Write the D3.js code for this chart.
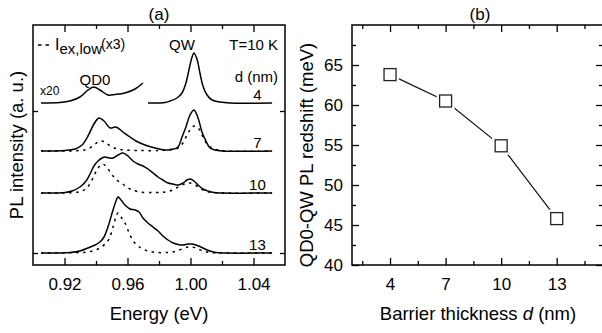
<!DOCTYPE html>
<html><head><meta charset="utf-8">
<script src="https://cdn.jsdelivr.net/npm/d3@7"></script>
<style>
body{margin:0;background:#fff;}
svg{display:block;font-family:"Liberation Sans",Arial,Helvetica,sans-serif;}
</style></head><body>
<svg id="c" width="602" height="333"></svg>
<script>
// ---------- Panel (a): PL spectra (energy in eV, intensity in a.u. above each baseline) ----------
const dValues = ["4", "7", "10", "13"];
const offsets = [15.0, 10.2, 6.0, 0];

// d = 4 nm, QD0 part (x20)
const e4qd = [0.9051,0.9171,0.9235,0.9298,0.9349,0.9387,0.9425,0.9476,0.9521,0.9584,0.9648,0.9698];
const i4qd = [0,0.05,0.2,0.6,1.3,1.6,1.3,0.8,0.85,1.0,1.4,2.0];
// d = 4 nm, QW part
const e4qw = [0.9730,0.9838,0.9870,0.9914,0.9946,0.9971,0.9990,1.0010,1.0022,1.0041,1.0060,1.0079,1.0105,1.0137,1.0187,1.0251,1.0518];
const i4qw = [0,0.05,0.2,0.5,1.0,2.0,3.3,4.6,5.0,4.4,3.0,1.7,0.8,0.3,0.1,0,0];

// d = 7 nm
const e7 = [0.9051,0.9203,0.9267,0.9311,0.9349,0.9387,0.9419,0.9451,0.9489,0.9527,0.9571,0.9616,0.9660,0.9711,0.9775,0.9838,0.9883,0.9921,0.9946,0.9971,0.9997,1.0022,1.0048,1.0073,1.0098,1.0124,1.0156,1.0200,1.0518];
const i7 = [0,0.05,0.2,0.6,1.5,2.7,3.3,3.0,2.3,2.4,1.9,1.4,0.95,0.6,0.3,0.1,0.15,0.4,1.4,2.4,3.6,4.1,3.3,1.9,1.0,0.3,0.1,0,0];
const e7low = [0.9051,0.9298,0.9349,0.9387,0.9413,0.9438,0.9463,0.9502,0.9540,0.9584,0.9679,0.9806,0.9870,0.9921,0.9952,0.9984,1.0010,1.0029,1.0054,1.0079,1.0105,1.0137,1.0175,1.0219,1.0518];
const i7low = [0,0.05,0.2,0.6,0.9,1.0,0.8,0.4,0.2,0.1,0.05,0.05,0.15,0.3,0.8,1.8,2.4,2.5,2.2,1.4,0.7,0.3,0.1,0,0];

// d = 10 nm
const e10 = [0.9051,0.9203,0.9248,0.9298,0.9337,0.9362,0.9387,0.9413,0.9438,0.9457,0.9483,0.9508,0.9540,0.9571,0.9603,0.9635,0.9667,0.9698,0.9730,0.9762,0.9794,0.9825,0.9857,0.9889,0.9921,0.9952,0.9978,0.9997,1.0022,1.0048,1.0079,1.0111,1.0149,1.0200,1.0518];
const i10 = [0,0.05,0.2,0.6,1.2,1.9,2.7,3.2,3.5,3.6,3.5,3.5,3.8,4.0,3.7,3.2,2.9,2.7,2.4,2.0,1.6,1.3,1.0,0.9,0.8,1.0,1.3,1.4,1.2,0.8,0.4,0.2,0.05,0,0];
const e10low = [0.9051,0.9267,0.9311,0.9343,0.9381,0.9413,0.9444,0.9476,0.9508,0.9540,0.9578,0.9616,0.9679,0.9775,0.9838,0.9889,0.9933,0.9971,0.9997,1.0029,1.0060,1.0092,1.0137,1.0187,1.0518];
const i10low = [0,0.05,0.2,0.5,1.5,2.5,2.9,2.4,1.7,1.2,0.8,0.4,0.1,0.05,0.1,0.3,0.7,0.95,1.0,0.8,0.5,0.2,0.05,0,0];

// d = 13 nm
const e13 = [0.9051,0.9235,0.9298,0.9349,0.9394,0.9425,0.9451,0.9476,0.9508,0.9527,0.9540,0.9559,0.9584,0.9616,0.9648,0.9673,0.9698,0.9730,0.9762,0.9794,0.9825,0.9857,0.9889,0.9921,0.9952,0.9984,1.0010,1.0035,1.0060,1.0092,1.0124,1.0162,1.0219,1.0518];
const i13 = [0,0.05,0.2,0.5,0.8,1.1,1.6,2.6,4.3,5.2,5.6,5.3,4.8,4.4,4.3,4.1,3.5,3.0,2.6,2.2,1.7,1.3,1.0,0.85,0.8,0.9,0.9,0.8,0.65,0.4,0.2,0.05,0,0];
const e13low = [0.9051,0.9298,0.9349,0.9394,0.9425,0.9457,0.9483,0.9508,0.9527,0.9540,0.9559,0.9584,0.9616,0.9641,0.9667,0.9698,0.9743,0.9794,0.9857,0.9902,0.9946,0.9984,1.0010,1.0041,1.0079,1.0124,1.0187,1.0518];
const i13low = [0,0.05,0.1,0.3,0.5,0.9,1.4,2.6,3.6,4.0,3.6,3.0,1.8,1.1,0.7,0.4,0.15,0.05,0.05,0.15,0.4,0.6,0.6,0.45,0.2,0.05,0,0];

const energyTicksMajor = [0.92, 0.96, 1.00, 1.04];
const energyTicksMinor = [0.94, 0.98, 1.02];
const intensityTicks = [0, 14.2];

// ---------- Panel (b): redshift vs barrier thickness ----------
const thickness = [4, 7, 10, 13];
const redshift = [63.8, 60.5, 54.9, 45.8];
const thickTicksMajor = [4, 7, 10, 13];
const thickTicksMinor = [2.5, 5.5, 8.5, 11.5, 14.5];
const shiftTicksMajor = [40, 45, 50, 55, 60, 65];
const shiftTicksMinor = [42.5, 47.5, 52.5, 57.5, 62.5, 67.5];

// ================= drawing =================
const svg = d3.select("#c");
svg.append("rect").attr("width",602).attr("height",333).attr("fill","#fff");

const tickFont = "17px";
const labelFont = "18.5px";

// ---- panel (a) ----
const A = {l:33, r:285, t:25, b:265};
const xA = d3.scaleLinear().domain([0.90, 1.06]).range([A.l, A.r]);
const yA = d3.scaleLinear().domain([-1.2, 22.8]).range([A.b, A.t]);

const gA = svg.append("g");

function styleAxis(g, fs){
  g.select(".domain").remove();
  g.selectAll(".tick line").attr("stroke","#000").attr("stroke-width",1.3);
  g.selectAll("text").attr("fill","#000").style("font-size",fs).style("font-family","Liberation Sans, Arial, sans-serif");
}

// bottom axis (a)
gA.append("g").attr("transform",`translate(0,${A.b})`)
  .call(d3.axisBottom(xA).tickValues(energyTicksMajor).tickFormat(d3.format(".2f")).tickSizeInner(-7).tickSizeOuter(0).tickPadding(13))
  .call(g=>styleAxis(g,tickFont));
gA.append("g").attr("transform",`translate(0,${A.b})`)
  .call(d3.axisBottom(xA).tickValues(energyTicksMinor).tickFormat("").tickSizeInner(-4).tickSizeOuter(0))
  .call(g=>styleAxis(g,tickFont));
// top axis (a)
gA.append("g").attr("transform",`translate(0,${A.t})`)
  .call(d3.axisTop(xA).tickValues(energyTicksMajor).tickFormat("").tickSizeInner(-7).tickSizeOuter(0))
  .call(g=>styleAxis(g,tickFont));
gA.append("g").attr("transform",`translate(0,${A.t})`)
  .call(d3.axisTop(xA).tickValues(energyTicksMinor).tickFormat("").tickSizeInner(-4).tickSizeOuter(0))
  .call(g=>styleAxis(g,tickFont));
// left/right axis (a)
gA.append("g").attr("transform",`translate(${A.l},0)`)
  .call(d3.axisLeft(yA).tickValues(intensityTicks).tickFormat("").tickSizeInner(-5).tickSizeOuter(0))
  .call(g=>styleAxis(g,tickFont));
gA.append("g").attr("transform",`translate(${A.r},0)`)
  .call(d3.axisRight(yA).tickValues(intensityTicks).tickFormat("").tickSizeInner(-5).tickSizeOuter(0))
  .call(g=>styleAxis(g,tickFont));

gA.append("rect").attr("x",A.l).attr("y",A.t).attr("width",A.r-A.l).attr("height",A.b-A.t)
  .attr("fill","none").attr("stroke","#000").attr("stroke-width",1.5);

const solids = [
  {e:e4qd, i:i4qd, k:0},
  {e:e4qw, i:i4qw, k:0},
  {e:e7, i:i7, k:1},
  {e:e10, i:i10, k:2},
  {e:e13, i:i13, k:3}
];
const dotted = [
  {e:e7low, i:i7low, k:1},
  {e:e10low, i:i10low, k:2},
  {e:e13low, i:i13low, k:3}
];
function lineFor(s){
  const pts = s.e.map((e,j)=>[e, s.i[j] + offsets[s.k]]);
  return d3.line().x(d=>xA(d[0])).y(d=>yA(d[1])).curve(d3.curveCatmullRom.alpha(0.5))(pts);
}
gA.selectAll(".dot").data(dotted).join("path").attr("class","dot")
  .attr("d",lineFor).attr("fill","none").attr("stroke","#000").attr("stroke-width",1.5)
  .attr("stroke-dasharray","2.5,4.5");
gA.selectAll(".sol").data(solids).join("path").attr("class","sol")
  .attr("d",lineFor).attr("fill","none").attr("stroke","#000").attr("stroke-width",1.5)
  .attr("stroke-linejoin","round");

// thickness labels
gA.selectAll(".dl").data(dValues).join("text").attr("class","dl")
  .attr("x",xA(1.0425)).attr("y",(d,k)=>yA(offsets[k])-3)
  .attr("text-anchor","middle").style("font-size","15px").text(d=>d);

// annotations
gA.append("path").attr("d",`M38,45H52`).attr("stroke","#000").attr("stroke-width",1.5).attr("stroke-dasharray","3.5,4");
const leg = gA.append("text").attr("x",55).attr("y",50).style("font-size","16px");
leg.append("tspan").text("I");
leg.append("tspan").attr("dy",4).style("font-size","15px").text("ex,low");
leg.append("tspan").attr("x",101).attr("dy",-5).style("font-size","14px").text("(x3)");
gA.append("text").attr("x",182).attr("y",50).attr("text-anchor","middle").style("font-size","15px").text("QW");
gA.append("text").attr("x",278).attr("y",50).attr("text-anchor","end").style("font-size","15px").text("T=10 K");
gA.append("text").attr("x",278).attr("y",82).attr("text-anchor","end").style("font-size","15px").text("d (nm)");
gA.append("text").attr("x",95).attr("y",85).attr("text-anchor","middle").style("font-size","15px").text("QD0");
gA.append("text").attr("x",40).attr("y",95).style("font-size","12px").text("x20");

gA.append("text").attr("x",(A.l+A.r)/2).attr("y",20).attr("text-anchor","middle").style("font-size","17px").text("(a)");
gA.append("text").attr("x",(A.l+A.r)/2).attr("y",320).attr("text-anchor","middle").style("font-size",labelFont).text("Energy (eV)");
gA.append("text").attr("transform",`translate(23,${(A.t+A.b)/2}) rotate(-90)`).attr("text-anchor","middle")
  .style("font-size",labelFont).text("PL intensity (a. u.)");

// ---- panel (b) ----
const B = {l:352, r:603, t:25, b:265};
const xB = d3.scaleLinear().domain([2, 15.5]).range([B.l+1, B.r]);
const yB = d3.scaleLinear().domain([40, 70]).range([B.b, B.t]);
const gB = svg.append("g");

gB.append("g").attr("transform",`translate(0,${B.b})`)
  .call(d3.axisBottom(xB).tickValues(thickTicksMajor).tickFormat(d3.format("d")).tickSizeInner(-7).tickSizeOuter(0).tickPadding(13))
  .call(g=>styleAxis(g,tickFont));
gB.append("g").attr("transform",`translate(0,${B.b})`)
  .call(d3.axisBottom(xB).tickValues(thickTicksMinor).tickFormat("").tickSizeInner(-4).tickSizeOuter(0))
  .call(g=>styleAxis(g,tickFont));
gB.append("g").attr("transform",`translate(0,${B.t})`)
  .call(d3.axisTop(xB).tickValues(thickTicksMajor).tickFormat("").tickSizeInner(-7).tickSizeOuter(0))
  .call(g=>styleAxis(g,tickFont));
gB.append("g").attr("transform",`translate(0,${B.t})`)
  .call(d3.axisTop(xB).tickValues(thickTicksMinor).tickFormat("").tickSizeInner(-4).tickSizeOuter(0))
  .call(g=>styleAxis(g,tickFont));
gB.append("g").attr("transform",`translate(${B.l},0)`)
  .call(d3.axisLeft(yB).tickValues(shiftTicksMajor).tickFormat(d3.format("d")).tickSizeInner(-7).tickSizeOuter(0).tickPadding(9))
  .call(g=>styleAxis(g,tickFont));
gB.append("g").attr("transform",`translate(${B.l},0)`)
  .call(d3.axisLeft(yB).tickValues(shiftTicksMinor).tickFormat("").tickSizeInner(-4).tickSizeOuter(0))
  .call(g=>styleAxis(g,tickFont));
gB.append("g").attr("transform",`translate(${B.r},0)`)
  .call(d3.axisRight(yB).tickValues(shiftTicksMajor).tickFormat("").tickSizeInner(-7).tickSizeOuter(0))
  .call(g=>styleAxis(g,tickFont));
gB.append("g").attr("transform",`translate(${B.r},0)`)
  .call(d3.axisRight(yB).tickValues(shiftTicksMinor).tickFormat("").tickSizeInner(-4).tickSizeOuter(0))
  .call(g=>styleAxis(g,tickFont));

gB.append("rect").attr("x",B.l).attr("y",B.t).attr("width",B.r-B.l).attr("height",B.b-B.t)
  .attr("fill","none").attr("stroke","#000").attr("stroke-width",1.5);

const ptsB = thickness.map((t,j)=>[t, redshift[j]]);
gB.append("path").attr("d",d3.line().x(d=>xB(d[0])).y(d=>yB(d[1]))(ptsB))
  .attr("fill","none").attr("stroke","#111").attr("stroke-width",1.2);
gB.selectAll(".halo").data(ptsB).join("rect").attr("class","halo")
  .attr("x",d=>xB(d[0])-9).attr("y",d=>yB(d[1])-9).attr("width",18).attr("height",18).attr("fill","#fff");
gB.selectAll(".sq").data(ptsB).join("rect").attr("class","sq")
  .attr("x",d=>xB(d[0])-6).attr("y",d=>yB(d[1])-6).attr("width",12).attr("height",12)
  .attr("fill","#fff").attr("stroke","#222").attr("stroke-width",1.3);

gB.append("text").attr("x",480).attr("y",20).attr("text-anchor","middle").style("font-size","17px").text("(b)");
const xt = gB.append("text").attr("x",478).attr("y",320).attr("text-anchor","middle").style("font-size",labelFont);
xt.append("tspan").text("Barrier thickness ");
xt.append("tspan").style("font-style","italic").text("d");
xt.append("tspan").text(" (nm)");
gB.append("text").attr("transform",`translate(313,${(B.t+B.b)/2+10}) rotate(-90)`).attr("text-anchor","middle")
  .style("font-size",labelFont).text("QD0-QW PL redshift (meV)");
</script></body></html>
